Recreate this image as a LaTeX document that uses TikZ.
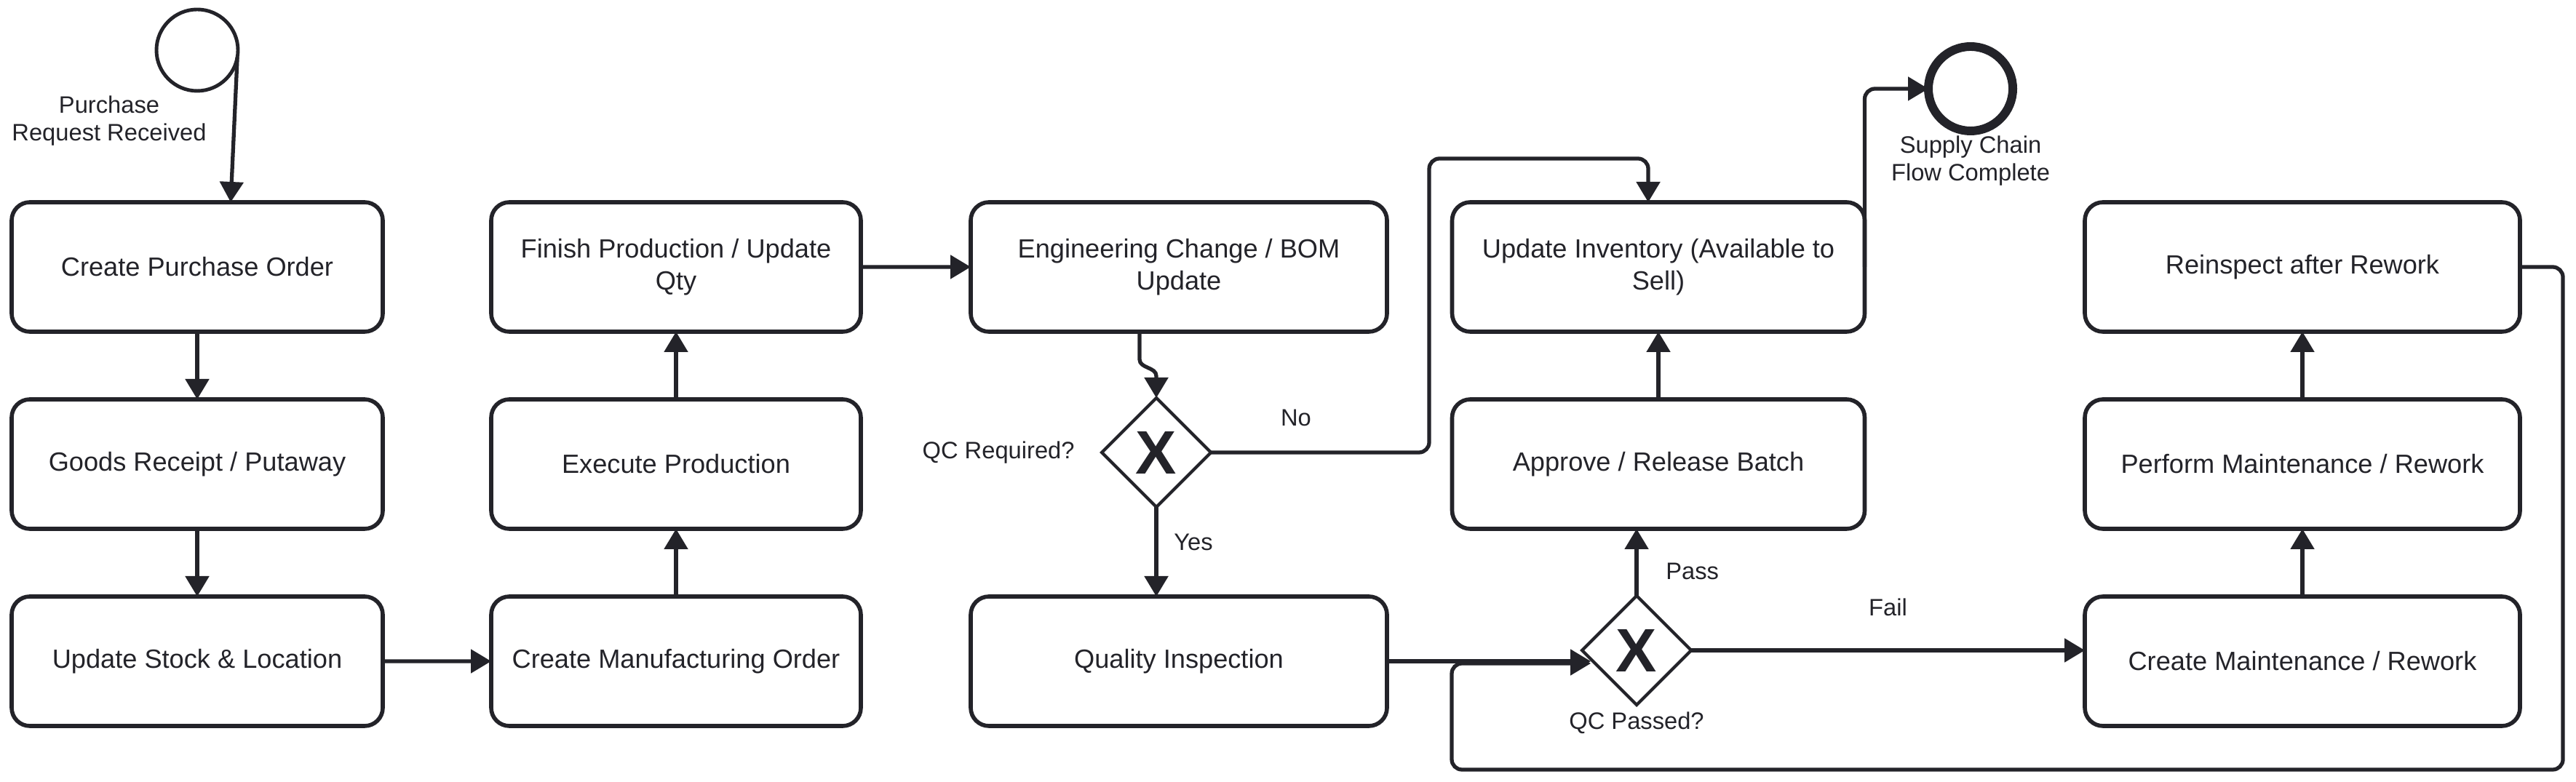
\documentclass[tikz,border=0pt]{standalone}
\usepackage{fontspec}
\setmainfont{Liberation Sans}
\usetikzlibrary{shapes.geometric,arrows.meta,positioning}
\definecolor{ink}{HTML}{232329}

\begin{document}
\begin{tikzpicture}[font=\fontsize{10.3}{12.4}\selectfont,color=ink,>={Triangle[length=2.8mm,width=3.2mm]},
task/.style={rectangle,draw,rounded corners=0.25cm,line width=1.6pt,outer sep=0pt,align=center,minimum height=1.78cm},
gateway/.style={diamond,draw,line width=1.2pt,minimum size=1.5cm,inner sep=0pt,outer sep=0pt,font=\fontsize{24}{24}\selectfont\bfseries},
flow/.style={->,line width=1.5pt,rounded corners=4pt},
lbl/.style={font=\fontsize{9.3}{10.9}\selectfont,align=center},
every label/.append style={lbl}]

\useasboundingbox (0,0) rectangle (35.40,10.74);

\node[circle,draw,line width=1.4pt,minimum size=1.12cm,outer sep=0pt,label={[xshift=-1.21cm,label distance=-0.06cm]below:Purchase\\Request Received}](PR) at (2.71,10.05){};

\node[task,minimum width=5.10cm](PO) at (2.71,7.07){Create Purchase Order};
\node[task,minimum width=5.10cm,below=0.93cm of PO](GR){Goods Receipt / Putaway};
\node[task,minimum width=5.10cm,below=0.93cm of GR](US){Update Stock \& Location};

\node[task,minimum width=5.08cm](MO) at (9.29,1.65){Create Manufacturing Order};
\node[task,minimum width=5.08cm,above=0.93cm of MO](EP){Execute Production};
\node[task,minimum width=5.08cm,above=0.93cm of EP](FP){Finish Production / Update\\Qty};

\node[task,minimum width=5.72cm](EC) at (16.20,7.07){Engineering Change / BOM\\Update};
\node[gateway,label={[label distance=0.25cm]left:QC Required?}](QCR) at (15.89,4.52){X};
\node[task,minimum width=5.72cm](QI) at (16.20,1.65){Quality Inspection};

\node[task,minimum width=5.67cm](UI) at (22.79,7.07){Update Inventory (Available to\\Sell)};
\node[task,minimum width=5.67cm,below=0.93cm of UI](AR){Approve / Release Batch};
\node[gateway,label={[label distance=-0.03cm]below:QC Passed?}](QCP) at (22.49,1.80){X};

\node[circle,draw,line width=3.4pt,minimum size=1.16cm,outer sep=0pt,label={[label distance=-0.06cm]below:Supply Chain\\Flow Complete}](SC) at (27.08,9.52){};

\node[task,minimum width=5.98cm](CM) at (31.64,1.65){Create Maintenance / Rework};
\node[task,minimum width=5.98cm,above=0.93cm of CM](PM){Perform Maintenance / Rework};
\node[task,minimum width=5.98cm,above=0.93cm of PM](RR){Reinspect after Rework};

\coordinate (loopR) at (35.22,0.16);
\coordinate (loopL) at (19.95,0.16);

% purchasing
\draw[flow] (PR.-10) -- ([xshift=0.46cm]PO.north);
\draw[flow] (PO.south) -- (GR.north);
\draw[flow] (GR.south) -- (US.north);
\draw[flow] (US.east) -- (MO.west);

% production
\draw[flow] (MO.north) -- (EP.south);
\draw[flow] (EP.north) -- (FP.south);
\draw[flow] (FP.east) -- (EC.west);
\draw[flow,sharp corners] ([xshift=-0.54cm]EC.south) -- ++(0,-0.38) to[out=-90,in=90] ([yshift=0.3cm]QCR.north) -- (QCR.north);

% quality
\draw[flow] (QCR.east) -- node[lbl,above=0.22cm,pos=0.39]{No} ++(3.0,0) |- ([xshift=-0.14cm,yshift=0.6cm]UI.north) -- ([xshift=-0.14cm]UI.north);
\draw[flow] (QCR.south) -- node[lbl,right=0.1cm,pos=0.39]{Yes} (QCR.south |- QI.north);
\draw[flow] (QI.east) -- ([xshift=0.12cm]QI.east -| QCP.west);
\draw[flow] (QCP.north) -- node[lbl,right=0.26cm,pos=0.36]{Pass} (QCP.north |- AR.south);
\draw[flow] (QCP.east) -- node[lbl,above=0.33cm,pos=0.5]{Fail} (QCP.east -| CM.west);
\draw[flow] (AR.north) -- (UI.south);
\draw[flow] (UI.east) |- (SC.west);

% rework loop
\draw[flow] (CM.north) -- (PM.south);
\draw[flow] (PM.north) -- (RR.south);
\draw[flow] (RR.east) -| (loopR) -- (loopL) |- ([xshift=0.12cm,yshift=-0.03cm]QI.east -| QCP.west);

\end{tikzpicture}
\end{document}
